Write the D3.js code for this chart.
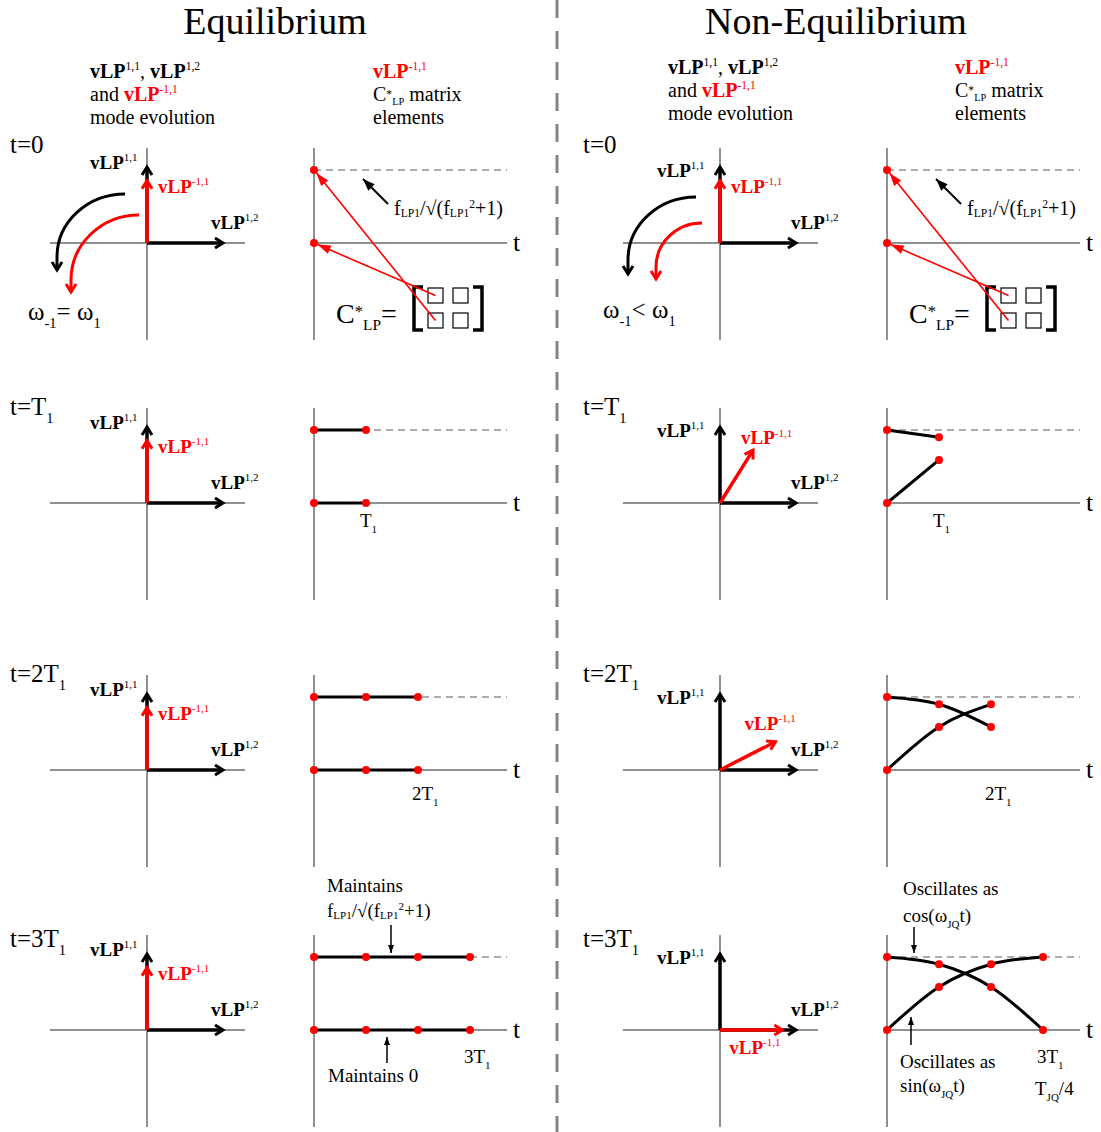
<!DOCTYPE html>
<html><head><meta charset="utf-8">
<script src="https://cdn.jsdelivr.net/npm/d3@7"></script>
<style>body{margin:0;background:#fff}svg{display:block}</style>
</head><body>
<svg id="c" width="1101" height="1132"></svg>
<script>
// ---------------- data ----------------
const panelTitles = ["Equilibrium", "Non-Equilibrium"];
const rowStems = ["t=0", "t=T", "t=2T", "t=3T"];
const rowSubs = ["", "1", "1", "1"];
const timeSteps = [0, 1, 2, 3];
const tickStems = ["", "T", "2T", "3T"];
const tickSubs = ["", "1", "1", "1"];
// C*LP elements, in units of fLP1/sqrt(fLP1^2+1)
const eqUpper = [1, 1, 1, 1];
const eqLower = [0, 0, 0, 0];
const neqUpper = [1, 0.9, 0.59, 0];   // oscillates as cos(wJQ t)
const neqLower = [0, 0.59, 0.9, 1];   // oscillates as sin(wJQ t)
// direction (deg) of the vLP^{-1,1} vector in each row
const eqRedAngle = [90, 90, 90, 90];
const neqRedAngle = [90, 58, 27, 0];
const blackMag = 1, redMag = 0.82;
const omegaRelations = ["=", "<"];

// ---------------- layout ----------------
const RED = "#ff0000", GRAY = "#909090";
const FONT = "'Liberation Serif','Times New Roman',serif";
const rowY = [243, 503, 770, 1030];
const rowLabelDy = [-90, -88, -88, -83];
const tickDy = [0, 24, 30, 33];
const cols = [
  {titleX: 275, rowLabelX: 10, vecX: 147, cX: 314, hdrLX: 90, hdrRX: 373, hdrY: [78, 101, 124],
   upper: eqUpper, lower: eqLower, redAngle: eqRedAngle,
   l11: [-57, -74], l12: [64, -14], redLab: [[11, 12], [11, 12], [11, 12], [11, 12]],
   arcs: [{dx: -22, dy: 14, rx: 68, ry: 63, tail: 13, c: "k"}, {dx: -8, dy: 37, rx: 68, ry: 65, tail: 12, c: "r"}],
   omegaX: 28, omegaY: 320},
  {titleX: 836, rowLabelX: 583, vecX: 720, cX: 887, hdrLX: 668, hdrRX: 955, hdrY: [74, 97, 120],
   upper: neqUpper, lower: neqLower, redAngle: neqRedAngle,
   l11: [-63, -66], l12: [71, -14], redLab: [[11, 12], [-12, -6], [-31, -12], [-53, 24]],
   arcs: [{dx: -24, dy: 17, rx: 68, ry: 63, tail: 14, c: "k"}, {dx: -18, dy: 24, rx: 46, ry: 44, tail: 12, c: "r"}],
   omegaX: 603, omegaY: 318}
];

const svg = d3.select("#c").attr("font-family", FONT);
svg.append("rect").attr("width", 1101).attr("height", 1132).attr("fill", "#fff");
const defs = svg.append("defs");
function chevron(id, color) {
  defs.append("marker").attr("id", id).attr("markerUnits", "userSpaceOnUse")
    .attr("viewBox", "-14 -10 18 20").attr("markerWidth", 18).attr("markerHeight", 20)
    .attr("refX", 0).attr("refY", 0).attr("orient", "auto").attr("overflow", "visible")
    .append("path").attr("d", "M-8,-5L0,0L-8,5").attr("fill", "none")
    .attr("stroke", color).attr("stroke-width", 3);
}
function tri(id, color, len, half) {
  defs.append("marker").attr("id", id).attr("markerUnits", "userSpaceOnUse")
    .attr("viewBox", `${-len - 1} ${-half - 1} ${len + 2} ${2 * half + 2}`)
    .attr("markerWidth", len + 2).attr("markerHeight", 2 * half + 2)
    .attr("refX", 0).attr("refY", 0).attr("orient", "auto").attr("overflow", "visible")
    .append("path").attr("d", `M${-len},${-half}L0,0L${-len},${half}Z`).attr("fill", color);
}
chevron("chev-k", "#000"); chevron("chev-r", RED);
tri("tri-r", RED, 13, 4.5); tri("tri-k", "#000", 12, 4.5); tri("tri-ks", "#000", 8, 3);

function rich(g, x, y, segs, size, anchor) {
  const t = g.append("text").attr("x", x).attr("y", y).attr("font-size", size)
    .attr("text-anchor", anchor || "start");
  let cur = 0;
  segs.forEach(s => {
    const target = s.sup ? -size * (s.rise || 0.4) : s.sub ? size * (s.drop || 0.3) : 0;
    const ts = t.append("tspan").text(s.t).attr("dy", target - cur);
    cur = target;
    if (s.sup || s.sub) ts.attr("font-size", size * (s.fs || 0.58));
    if (s.b) ts.attr("font-weight", "bold");
    if (s.c) ts.attr("fill", s.c);
  });
  return t;
}
const vlp = (sup, c) => [{t: "vLP", b: 1, c}, {t: sup, sup: 1, c}];
const formula = [{t: "f"}, {t: "LP1", sub: 1, drop: 0.12}, {t: "/√(f"}, {t: "LP1", sub: 1, drop: 0.12},
  {t: "2", sup: 1, rise: 0.35}, {t: "+1)"}];
const headerLeft = [
  [...vlp("1,1"), {t: ", "}, ...vlp("1,2")],
  [{t: "and "}, ...vlp("-1,1", RED)],
  [{t: "mode evolution"}]
];
const headerRight = [
  vlp("-1,1", RED),
  [{t: "C"}, {t: "*", sup: 1, rise: 0.15}, {t: "LP", sub: 1, drop: 0.2, fs: 0.52}, {t: " matrix"}],
  [{t: "elements"}]
];

// divider
svg.append("line").attr("x1", 557).attr("x2", 557).attr("y1", 0).attr("y2", 1132)
  .attr("stroke", "#858585").attr("stroke-width", 3).attr("stroke-dasharray", "18,13");

cols.forEach((col, ci) => {
  const g = svg.append("g");
  g.append("text").attr("x", col.titleX).attr("y", 34).attr("text-anchor", "middle")
    .attr("font-size", 38).text(panelTitles[ci]);
  headerLeft.forEach((s, i) => rich(g, col.hdrLX, col.hdrY[i], s, 20));
  headerRight.forEach((s, i) => rich(g, col.hdrRX, col.hdrY[i], s, 20));

  rowY.forEach((oy, r) => {
    // row label
    rich(g, col.rowLabelX, oy + rowLabelDy[r], [{t: rowStems[r]}, {t: rowSubs[r], sub: 1, drop: 0.33}], 25);

    // ---------- vector panel ----------
    const ox = col.vecX;
    const vs = d3.scaleLinear().domain([0, 1]).range([0, 76]);
    g.append("line").attr("x1", ox - 97).attr("x2", ox + 98).attr("y1", oy).attr("y2", oy)
      .attr("stroke", GRAY).attr("stroke-width", 2);
    g.append("line").attr("x1", ox).attr("x2", ox).attr("y1", oy - 95).attr("y2", oy + 97)
      .attr("stroke", GRAY).attr("stroke-width", 2);
    const vecs = [
      {mag: blackMag, ang: 0, m: "k"},
      {mag: blackMag, ang: 90, m: "k"},
      {mag: redMag, ang: col.redAngle[r], m: "r"}
    ];
    let redTip;
    vecs.forEach(v => {
      const a = v.ang * Math.PI / 180;
      const x2 = ox + vs(v.mag) * Math.cos(a), y2 = oy - vs(v.mag) * Math.sin(a);
      if (v.m === "r") redTip = [x2, y2];
      g.append("line").attr("x1", ox).attr("y1", oy).attr("x2", x2).attr("y2", y2)
        .attr("stroke", v.m === "k" ? "#000" : RED).attr("stroke-width", 3.5)
        .attr("marker-end", `url(#chev-${v.m})`);
    });
    rich(g, ox + col.l11[0], oy + col.l11[1], vlp("1,1"), 19);
    rich(g, ox + col.l12[0], oy + col.l12[1], vlp("1,2"), 19);
    rich(g, redTip[0] + col.redLab[r][0], redTip[1] + col.redLab[r][1], vlp("-1,1", RED), 19);

    if (r === 0) {
      col.arcs.forEach(a => {
        const cx = ox + a.dx, cy = oy + a.dy;
        g.append("path")
          .attr("d", `M${cx},${cy - a.ry}A${a.rx},${a.ry} 0 0 0 ${cx - a.rx},${cy}L${cx - a.rx},${cy + a.tail}`)
          .attr("fill", "none").attr("stroke", a.c === "k" ? "#000" : RED).attr("stroke-width", 3)
          .attr("marker-end", `url(#chev-${a.c})`);
      });
      rich(g, col.omegaX, col.omegaY, [{t: "ω"}, {t: "-1", sub: 1, drop: 0.32}, {t: omegaRelations[ci] + " ω"},
        {t: "1", sub: 1, drop: 0.32}], 25);
    }

    // ---------- C*LP panel ----------
    const cx0 = col.cX;
    const xs = d3.scaleLinear().domain([0, 3]).range([cx0, cx0 + 156]);
    const ys = d3.scaleLinear().domain([0, 1]).range([oy, oy - 73]);
    g.append("line").attr("x1", cx0).attr("x2", cx0).attr("y1", oy - 95).attr("y2", oy + 97)
      .attr("stroke", GRAY).attr("stroke-width", 2);
    g.append("line").attr("x1", cx0).attr("x2", cx0 + 193).attr("y1", ys(1)).attr("y2", ys(1))
      .attr("stroke", GRAY).attr("stroke-width", 1.5).attr("stroke-dasharray", "7,5");
    g.append("line").attr("x1", cx0).attr("x2", cx0 + 193).attr("y1", oy).attr("y2", oy)
      .attr("stroke", GRAY).attr("stroke-width", 2);
    g.append("text").attr("x", cx0 + 199).attr("y", oy + 8).attr("font-size", 26).text("t");

    const idx = timeSteps.slice(0, r + 1);
    const lineGen = d3.line().x(d => xs(d[0])).y(d => ys(d[1])).curve(d3.curveMonotoneX);
    [col.upper, col.lower].forEach(series => {
      const pts = idx.map(i => [timeSteps[i], series[i]]);
      if (pts.length > 1)
        g.append("path").attr("d", lineGen(pts)).attr("fill", "none").attr("stroke", "#000")
          .attr("stroke-width", 3).attr("stroke-linecap", "round");
    });
    [col.upper, col.lower].forEach(series => {
      idx.forEach(i => g.append("circle").attr("cx", xs(timeSteps[i])).attr("cy", ys(series[i]))
        .attr("r", 4).attr("fill", RED));
    });
    if (r > 0) {
      rich(g, xs(timeSteps[r]) - 6, oy + tickDy[r], [{t: tickStems[r]}, {t: tickSubs[r], sub: 1, drop: 0.3}], 19);
    }

    if (r === 0) {
      // annotation arrow + formula
      g.append("line").attr("x1", cx0 + 74).attr("y1", oy - 39).attr("x2", cx0 + 49).attr("y2", oy - 64)
        .attr("stroke", "#000").attr("stroke-width", 2).attr("marker-end", "url(#tri-k)");
      rich(g, cx0 + 80, oy - 28, formula, 20);
      // matrix
      const mx = cx0 + 114, my = oy + 45, sq = 15, st = 25;
      rich(g, cx0 + 22, oy + 80, [{t: "C"}, {t: "*", sup: 1, rise: 0.2, fs: 0.6},
        {t: "LP", sub: 1, drop: 0.25, fs: 0.55}, {t: "="}], 28);
      g.append("path").attr("d", `M${mx - 5},${my - 1}H${mx - 14}V${my + 42}H${mx - 5}`)
        .attr("fill", "none").attr("stroke", "#000").attr("stroke-width", 3.5);
      g.append("path").attr("d", `M${mx + 45},${my - 1}H${mx + 54}V${my + 42}H${mx + 45}`)
        .attr("fill", "none").attr("stroke", "#000").attr("stroke-width", 3.5);
      [0, 1].forEach(i => [0, 1].forEach(j => g.append("rect")
        .attr("x", mx + j * st).attr("y", my + i * st).attr("width", sq).attr("height", sq)
        .attr("fill", "none").attr("stroke", "#000").attr("stroke-width", 1.2)));
      // red pointers from matrix elements to their t=0 values
      const ptrs = [
        {from: [mx + sq / 2, my + sq / 2], val: col.lower[0]},
        {from: [mx + sq / 2, my + st + sq / 2], val: col.upper[0]}
      ];
      ptrs.forEach(p => {
        const tx = xs(0), ty = ys(p.val);
        const dx = p.from[0] - tx, dy = p.from[1] - ty, L = Math.hypot(dx, dy);
        g.append("line").attr("x1", p.from[0]).attr("y1", p.from[1])
          .attr("x2", tx + dx / L * 4).attr("y2", ty + dy / L * 4)
          .attr("stroke", RED).attr("stroke-width", 1.6).attr("marker-end", "url(#tri-r)");
      });
    }

    if (r === 3) {
      const arrow = (x, y1, y2) => g.append("line").attr("x1", x).attr("x2", x).attr("y1", y1).attr("y2", y2)
        .attr("stroke", "#000").attr("stroke-width", 1.5).attr("marker-end", "url(#tri-ks)");
      if (ci === 0) {
        rich(g, cx0 + 13, oy - 138, [{t: "Maintains"}], 19);
        rich(g, cx0 + 13, oy - 113, formula, 19);
        arrow(cx0 + 77, oy - 105, oy - 77);
        rich(g, cx0 + 14, oy + 52, [{t: "Maintains 0"}], 19);
        arrow(cx0 + 73, oy + 33, oy + 7);
      } else {
        rich(g, cx0 + 16, oy - 135, [{t: "Oscillates as"}], 19);
        rich(g, cx0 + 16, oy - 108, [{t: "cos(ω"}, {t: "JQ", sub: 1, drop: 0.3}, {t: "t)"}], 19);
        arrow(cx0 + 27, oy - 103, oy - 77);
        rich(g, cx0 + 13, oy + 38, [{t: "Oscillates as"}], 19);
        rich(g, cx0 + 13, oy + 62, [{t: "sin(ω"}, {t: "JQ", sub: 1, drop: 0.3}, {t: "t)"}], 19);
        arrow(cx0 + 24, oy + 15, oy - 13);
        rich(g, xs(3) - 8, oy + 65, [{t: "T"}, {t: "JQ", sub: 1, drop: 0.3}, {t: "/4"}], 19);
      }
    }
  });
});
</script>
</body></html>
